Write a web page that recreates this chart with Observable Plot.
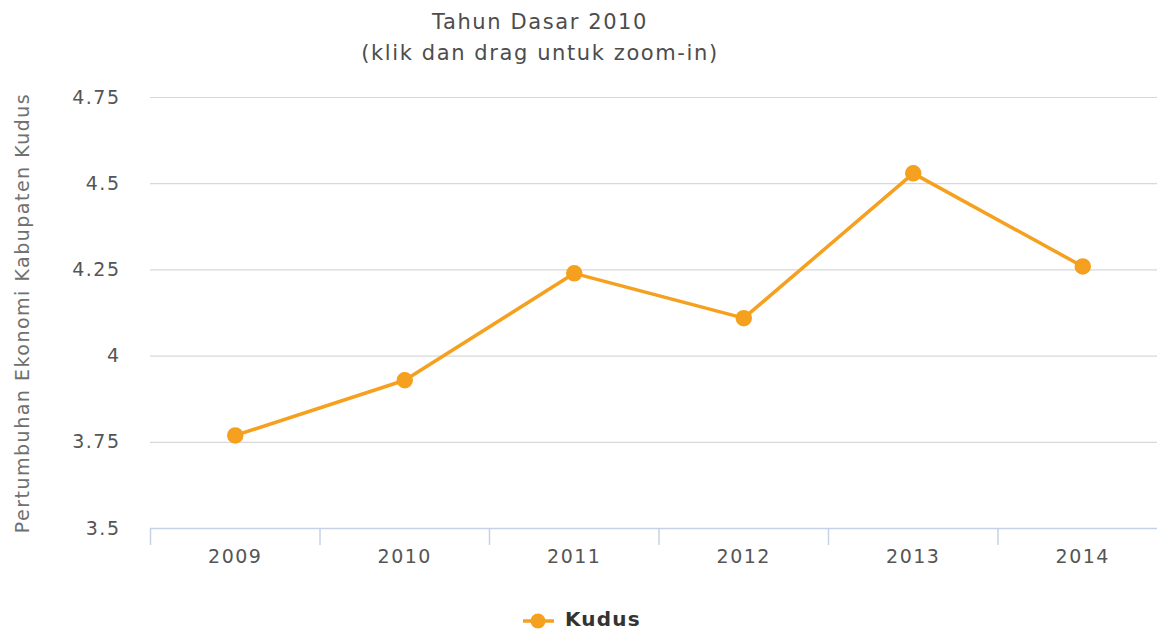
<!DOCTYPE html>
<html>
<head>
<meta charset="utf-8">
<script src="https://cdn.jsdelivr.net/npm/d3@7"></script>
<script src="https://cdn.jsdelivr.net/npm/@observablehq/plot@0.6"></script>
<style>
  html, body { margin: 0; padding: 0; background: #fff; overflow: hidden; width: 1157px; height: 631px; }
  body { font-family: "DejaVu Sans", Verdana, sans-serif; }
  #title { height: 77px; text-align: center; color: #4d4d4d; font-size: 21px; letter-spacing: 1.6px; line-height: 31px; padding-top: 7px; box-sizing: border-box; width: 1080px; }
  #legend { position: absolute; top: 600px; left: 0; width: 1157px; height: 31px; }
  #chart { width: 1167px; }
  #chart svg { display: block; max-width: none !important; }
</style>
</head>
<body>
<div id="title">Tahun Dasar 2010<br>(klik dan drag untuk zoom-in)</div>
<div id="chart"></div>
<div id="legend"></div>
<script>
const years = [2009, 2010, 2011, 2012, 2013, 2014];
const kudus = [3.77, 3.93, 4.24, 4.11, 4.53, 4.26];
const yTicks = [3.5, 3.75, 4, 4.25, 4.5, 4.75];
const yTickLabels = ["3.5", "3.75", "4", "4.25", "4.5", "4.75"];
const seriesName = "Kudus";
const yLabel = "Pertumbuhan Ekonomi Kabupaten Kudus";

const data = years.map((y, i) => ({year: y, value: kudus[i]}));
const boundaries = years.map(y => y - 0.5);
const orange = "#f5a01e";
const axisBlue = "#c5d2e6";

const chart = Plot.plot({
  width: 1167,
  height: 501,
  marginTop: 20,
  marginBottom: 50,
  marginLeft: 150,
  marginRight: 0,
  style: {fontFamily: "DejaVu Sans, Verdana, sans-serif", fontSize: "19px", color: "#555", letterSpacing: "1.5px", overflow: "visible", maxWidth: "none"},
  x: {domain: [years[0] - 0.5, years[years.length - 1] + 0.5], label: null},
  y: {domain: [3.5, 4.75], label: null},
  marks: [
    Plot.gridY(yTicks.slice(1), {stroke: "#d8d8d8", strokeOpacity: 1, strokeWidth: 1.2}),
    Plot.axisY({ticks: yTicks, tickFormat: d => yTickLabels[yTicks.indexOf(d)], tickSize: 0, tickPadding: 30,
      label: null, fill: "#555", fontSize: 19}),
    Plot.axisX({ticks: years, tickFormat: d => String(d), tickSize: 0, tickPadding: 21, label: null, fill: "#555", fontSize: 19}),
    Plot.ruleY([3.5], {stroke: axisBlue, strokeWidth: 1.5}),
    Plot.ruleX(boundaries, {x: d => d, y1: () => 3.5, y2: () => 3.5, stroke: axisBlue, strokeWidth: 1.5, insetBottom: -17}),
    Plot.line(data, {x: "year", y: "value", stroke: orange, strokeWidth: 3.5}),
    Plot.dot(data, {x: "year", y: "value", r: 7.5, fill: orange, stroke: orange}),
    Plot.text([yLabel], {frameAnchor: "left", textAnchor: "middle", dx: -128, rotate: -90, text: d => d, fill: "#707070", fontSize: 19, letterSpacing: "0.4px"})
  ]
});
document.getElementById("chart").appendChild(chart);

// legend
const lw = 1157, lsvg = d3.select("#legend").append("svg").attr("width", lw).attr("height", 31);
lsvg.append("line").attr("x1", 523).attr("x2", 554).attr("y1", 21).attr("y2", 21).attr("stroke", orange).attr("stroke-width", 3.5);
lsvg.append("circle").attr("cx", 538).attr("cy", 21).attr("r", 7.5).attr("fill", orange);
lsvg.append("text").attr("x", 565).attr("y", 26).text(seriesName)
  .attr("font-family", "DejaVu Sans, Verdana, sans-serif").attr("font-size", 20).attr("font-weight", "bold")
  .attr("letter-spacing", "1.2px").attr("fill", "#333");
</script>
</body>
</html>
